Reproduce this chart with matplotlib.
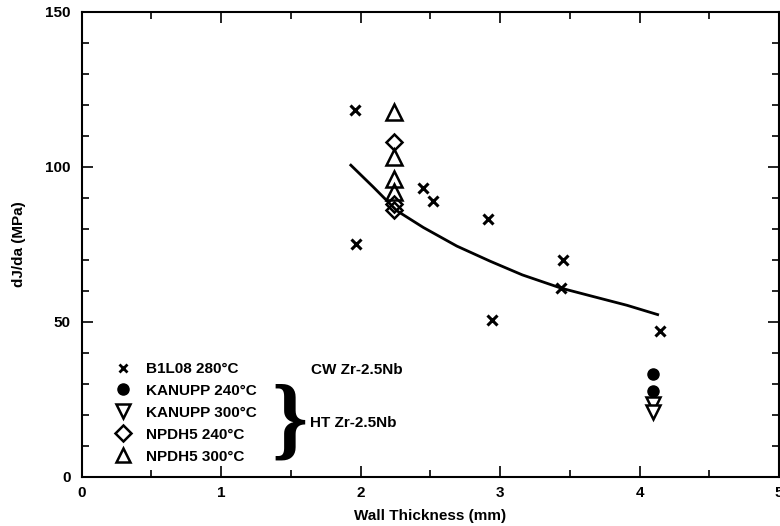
import matplotlib
matplotlib.use("Agg")
import matplotlib.pyplot as plt
from matplotlib.lines import Line2D
from matplotlib.ticker import MultipleLocator

plt.rcParams['font.family'] = ['Liberation Sans', 'DejaVu Sans']
plt.rcParams['font.weight'] = 'bold'

# B1L08 280C (CW Zr-2.5Nb)
b1l08_x = [1.96, 1.97, 2.45, 2.52, 2.91, 2.94, 3.45, 3.44, 4.15]
b1l08_y = [118.2, 75.0, 93.0, 89.0, 83.0, 50.5, 70.0, 61.0, 47.0]

# KANUPP (HT Zr-2.5Nb)
kan240_x = [4.10, 4.10]
kan240_y = [33.0, 27.5]
kan300_x = [4.10, 4.10]
kan300_y = [23.5, 21.0]

# NPDH5 (HT Zr-2.5Nb)
np240_x = [2.24, 2.24, 2.24]
np240_y = [108.0, 88.0, 86.0]
np300_x = [2.24, 2.24, 2.24, 2.24]
np300_y = [117.5, 103.0, 96.0, 92.0]

# fitted curve
fit_x = [1.93, 2.09, 2.26, 2.45, 2.69, 2.93, 3.16, 3.44, 3.67, 3.91, 4.13]
fit_y = [100.5, 93.5, 85.8, 80.4, 74.4, 69.5, 65.1, 60.8, 58.1, 55.3, 52.3]

labels = ['B1L08 280°C', 'KANUPP 240°C', 'KANUPP 300°C', 'NPDH5 240°C', 'NPDH5 300°C']

fig = plt.figure(figsize=(7.8, 5.26), dpi=100)
ax = fig.add_axes([0.1047, 0.0937, 0.894, 0.884])

ax.plot(fit_x, fit_y, color='black', lw=2.0)
ax.plot(b1l08_x, b1l08_y, 'x', color='black', ms=7, mew=2.2)
ax.plot(kan240_x, kan240_y, 'o', color='black', ms=8)
ax.plot(kan300_x, kan300_y, 'v', mfc='white', mec='black', ms=10, mew=1.8)
ax.plot(np240_x, np240_y, 'D', mfc='none', mec='black', ms=8, mew=1.8)
ax.plot(np300_x, np300_y, '^', mfc='none', mec='black', ms=11, mew=1.8)

ax.set_xlim(0, 5)
ax.set_ylim(0, 150)
ax.xaxis.set_major_locator(MultipleLocator(1))
ax.xaxis.set_minor_locator(MultipleLocator(0.5))
ax.yaxis.set_major_locator(MultipleLocator(50))
ax.yaxis.set_minor_locator(MultipleLocator(10))
ax.tick_params(which='both', direction='in', top=True, right=True, width=1.2,
               labelsize=11)
ax.tick_params(which='major', length=8)
ax.tick_params(which='minor', length=5)
ax.tick_params(axis='y', pad=8)
ax.tick_params(axis='x', pad=7)
for s in ax.spines.values():
    s.set_linewidth(1.5)

ax.set_xlabel('Wall Thickness (mm)', fontsize=11, fontweight='bold', labelpad=6)
ax.set_ylabel('dJ/da (MPa)', fontsize=11, fontweight='bold', labelpad=14)

handles = [
    Line2D([], [], ls='none', marker='x', color='black', ms=6, mew=2.0),
    Line2D([], [], ls='none', marker='o', color='black', ms=8),
    Line2D([], [], ls='none', marker='v', mfc='white', mec='black', ms=10, mew=1.8),
    Line2D([], [], ls='none', marker='D', mfc='none', mec='black', ms=8, mew=1.8),
    Line2D([], [], ls='none', marker='^', mfc='none', mec='black', ms=10, mew=1.8),
]
ax.legend(handles, labels, loc='upper left', bbox_to_anchor=(0.049, 0.247),
          frameon=False, borderpad=0, borderaxespad=0, handlelength=1.0,
          handletextpad=1.0, labelspacing=0.52,
          prop={'size': 11, 'weight': 'bold'})

ax.text(0.3286, 0.2295, 'CW Zr-2.5Nb', transform=ax.transAxes, fontsize=11,
        fontweight='bold', va='center', ha='left')
ax.text(0.3274, 0.1155, 'HT Zr-2.5Nb', transform=ax.transAxes, fontsize=11,
        fontweight='bold', va='center', ha='left')
ax.text(0.298, 0.112, '}', transform=ax.transAxes, fontsize=66,
        family='Liberation Serif', fontweight='bold', va='center', ha='center')

fig.savefig('out.png', dpi=100)
